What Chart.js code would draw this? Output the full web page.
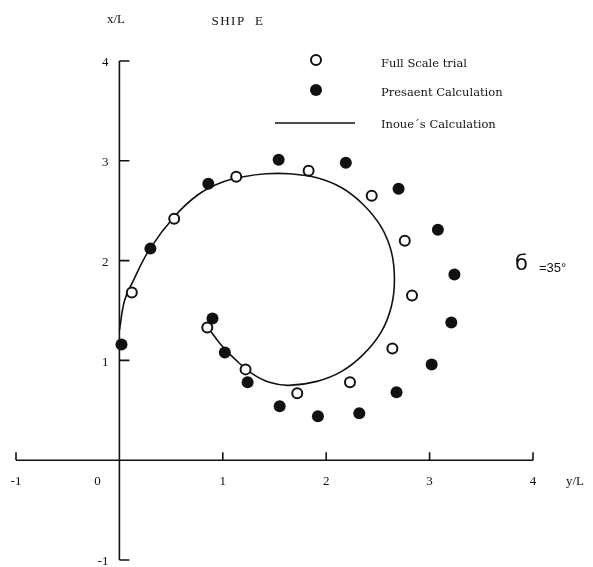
<!DOCTYPE html>
<html>
<head>
<meta charset="utf-8">
<script src="https://cdn.jsdelivr.net/npm/chart.js@4.4.0/dist/chart.umd.min.js"></script>
<style>
  html, body { margin: 0; padding: 0; background: #fff; }
  #wrap { width: 593px; height: 567px; position: relative; }
</style>
</head>
<body>
<div id="wrap"><canvas id="turnChart"></canvas></div>
<script>
const xTicks = [-1, 0, 1, 2, 3, 4];
const yTicks = [-1, 1, 2, 3, 4];

// full scale trial (open circles), y/L and x/L
const trialY = [0.12, 0.53, 1.13, 1.83, 2.44, 2.76, 2.83, 2.64, 2.23, 1.72, 1.22, 0.85];
const trialX = [1.68, 2.42, 2.84, 2.90, 2.65, 2.20, 1.65, 1.12, 0.78, 0.67, 0.91, 1.33];

// present calculation (filled circles)
const calcY = [0.02, 0.30, 0.86, 1.54, 2.19, 2.70, 3.08, 3.24, 3.21, 3.02, 2.68, 2.32, 1.92, 1.55, 1.24, 1.02, 0.90];
const calcX = [1.16, 2.12, 2.77, 3.01, 2.98, 2.72, 2.31, 1.86, 1.38, 0.96, 0.68, 0.47, 0.44, 0.54, 0.78, 1.08, 1.42];

// Inoue's calculation (solid curve)
const inoueY = [0.00, 0.05, 0.13, 0.29, 0.53, 0.76, 0.98, 1.20, 1.42, 1.64, 1.91, 2.15, 2.36, 2.53, 2.63, 2.66, 2.63, 2.53, 2.36, 2.15, 1.91, 1.64, 1.45, 1.28, 1.12, 0.98, 0.87];
const inoueX = [1.30, 1.60, 1.79, 2.11, 2.44, 2.66, 2.78, 2.84, 2.87, 2.87, 2.83, 2.73, 2.56, 2.34, 2.09, 1.81, 1.54, 1.28, 1.06, 0.89, 0.79, 0.75, 0.78, 0.87, 1.01, 1.16, 1.31];

const toPts = (xs, ys) => xs.map((v, i) => ({ x: v, y: ys[i] }));

const serif = '"Liberation Serif", "Times New Roman", serif';

/* ---------- axes, labels, legend ---------- */
const decor = {
  id: "decor",
  afterDraw(chart) {
    const c = chart.ctx;
    const sx = chart.scales.x, sy = chart.scales.y;
    const x0 = sx.getPixelForValue(0), y0 = sy.getPixelForValue(0);
    c.save();
    c.strokeStyle = "#111";
    c.fillStyle = "#111";
    c.lineWidth = 1.6;

    // horizontal axis
    c.beginPath();
    c.moveTo(sx.getPixelForValue(-1), y0);
    c.lineTo(sx.getPixelForValue(4), y0);
    xTicks.forEach(t => {
      if (t === 0) return;
      const px = sx.getPixelForValue(t);
      c.moveTo(px, y0);
      c.lineTo(px, y0 - 8);
    });
    // vertical axis
    c.moveTo(x0, sy.getPixelForValue(-1));
    c.lineTo(x0, sy.getPixelForValue(4));
    yTicks.forEach(t => {
      const py = sy.getPixelForValue(t);
      c.moveTo(x0, py);
      c.lineTo(x0 + 10, py);
    });
    c.stroke();

    c.font = "13px " + serif;
    c.textAlign = "center";
    c.textBaseline = "middle";
    xTicks.forEach(t => {
      const px = t === 0 ? x0 - 22 : sx.getPixelForValue(t);
      c.fillText(String(t), px, y0 + 21);
    });
    c.textAlign = "right";
    yTicks.forEach(t => {
      c.fillText(String(t), x0 - 11, sy.getPixelForValue(t) + 2);
    });

    c.textAlign = "center";
    c.fillText("y/L", 575, y0 + 21);
    c.fillText("x/L", 116, 20);
    c.font = "13px " + serif;
    c.letterSpacing = "1.5px";
    c.fillText("SHIP  E", 238, 22);
    c.letterSpacing = "0px";

    // legend
    c.textAlign = "left";
    c.font = '11.5px "DejaVu Serif", serif';
    c.lineWidth = 2;
    c.beginPath();
    c.arc(316, 60, 5, 0, Math.PI * 2);
    c.fillStyle = "#fff";
    c.fill();
    c.stroke();
    c.fillStyle = "#111";
    c.beginPath();
    c.arc(316, 90, 6, 0, Math.PI * 2);
    c.fill();
    c.lineWidth = 1.6;
    c.beginPath();
    c.moveTo(275, 123);
    c.lineTo(355, 123);
    c.stroke();
    c.fillText("Full Scale trial", 381, 64);
    c.fillText("Presaent Calculation", 381, 93);
    c.fillText("Inoue\u00b4s Calculation", 381, 125);

    // rudder angle
    c.font = '21px "DejaVu Sans", sans-serif';
    c.fillText("\u0431", 515, 265);
    c.font = '13px "Liberation Sans", sans-serif';
    c.fillText("=35\u00b0", 539, 268);
    c.restore();
  }
};

new Chart(document.getElementById("turnChart"), {
  type: "scatter",
  data: {
    datasets: [
      {
        label: "Inoue's Calculation",
        data: toPts(inoueY, inoueX),
        showLine: true,
        borderColor: "#111",
        borderWidth: 1.6,
        pointRadius: 0,
        tension: 0.4,
        order: 3
      },
      {
        label: "Full Scale trial",
        data: toPts(trialY, trialX),
        pointRadius: 5,
        pointBorderWidth: 2,
        pointBorderColor: "#111",
        pointBackgroundColor: "#fff",
        order: 2
      },
      {
        label: "Presaent Calculation",
        data: toPts(calcY, calcX),
        pointRadius: 6,
        pointBorderWidth: 0,
        pointBackgroundColor: "#111",
        order: 1
      }
    ]
  },
  options: {
    responsive: true,
    maintainAspectRatio: false,
    animation: false,
    layout: { padding: { left: 16, right: 60, top: 61, bottom: 7 } },
    plugins: { legend: { display: false }, tooltip: { enabled: false } },
    scales: {
      x: { type: "linear", min: -1, max: 4, display: false },
      y: { type: "linear", min: -1, max: 4, display: false }
    }
  },
  plugins: [decor]
});
</script>
</body>
</html>
